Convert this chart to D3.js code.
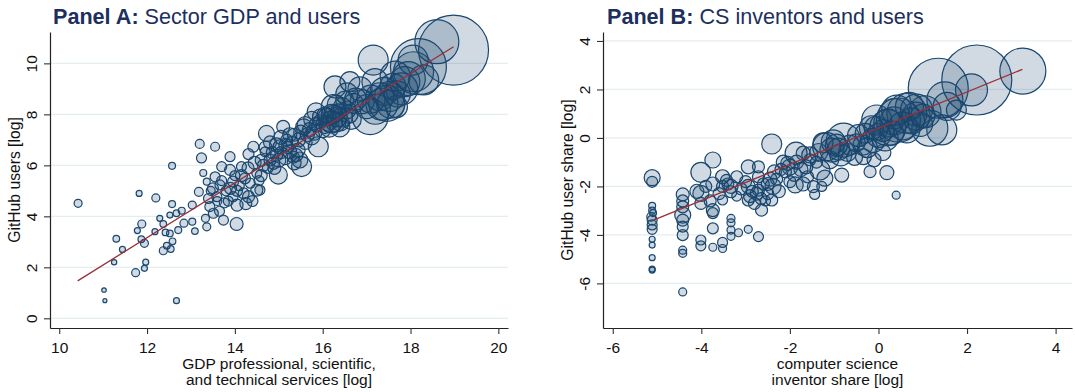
<!DOCTYPE html>
<html>
<head>
<meta charset="utf-8">
<script src="https://cdn.jsdelivr.net/npm/d3@7"></script>
<style>
  body { margin: 0; background: #fff; }
  svg { font-family: "Liberation Sans", Arial, sans-serif; }
</style>
</head>
<body>
<script>
// Panel A: sector GDP (log) vs GitHub users (log), bubble weight
const aGdp = [
  10.43,11.02,11.04,11.25,11.30,11.44,11.74,11.82,11.78,11.88,
  11.87,11.94,11.97,11.94,12.20,12.18,12.29,12.37,12.37,12.45,
  12.42,12.54,12.57,12.57,12.52,12.52,12.58,12.67,12.67,12.71,
  12.79,12.84,13.03,13.09,13.03,13.18,13.28,13.20,13.24,13.55,
  13.36,13.33,13.36,13.51,13.43,13.55,13.59,13.66,13.70,13.74,
  13.76,13.89,13.89,13.96,14.04,14.05,13.96,14.15,14.23,14.31,
  14.31,14.42,14.50,14.50,14.57,14.72,14.69,14.80,14.88,14.99,
  15.10,15.03,14.95,15.18,15.25,15.33,15.44,15.52,15.48,15.57,
  15.75,15.90,15.70,15.94,16.05,16.13,16.28,16.24,16.33,16.39,
  16.31,16.55,16.62,16.70,16.50,17.00,17.08,17.15,17.19,17.30,
  17.46,17.52,17.60,17.68,17.87,18.07,18.18,18.06,18.60,18.98,18.30,
  14.10,14.20,14.35,14.40,14.60,14.65,14.75,14.85,14.90,15.00,
  15.05,15.15,15.20,15.30,15.35,15.40,15.45,15.60,15.65,15.80,
  15.85,16.00,16.10,16.15,16.20,16.25,16.35,16.40,16.45,16.60,
  16.75,16.90,17.10,17.20,17.35,17.55,17.70,17.80,17.95,
  13.80,13.65,13.85,14.00,13.45,13.60,14.25,14.55,
  13.40,13.50,13.70,13.90,14.05,14.15,14.30,14.45,14.60,14.70,
  14.80,14.95,15.05,15.15,15.25,15.35,15.50,15.60,15.75,15.85,
  15.95,16.05,16.20,16.30,16.45,16.55,16.65,16.85,17.40,17.65
];
const aUsers = [
  4.51,1.11,0.69,2.20,3.12,2.70,1.79,4.90,3.44,3.70,
  3.10,2.94,2.20,1.96,4.72,3.40,3.92,3.70,2.65,2.85,
  3.37,2.72,5.98,4.48,4.05,3.33,3.02,0.69,4.12,3.46,
  4.22,3.73,3.79,3.42,4.44,4.96,5.70,6.84,6.29,6.73,
  5.36,3.92,3.59,4.12,4.38,5.55,4.77,5.23,5.95,3.85,
  4.53,6.34,5.82,5.36,3.70,4.44,4.77,5.95,5.49,4.77,
  6.44,6.73,5.69,5.03,5.03,7.25,6.53,6.21,6.08,5.62,
  7.51,6.73,6.40,6.99,6.53,6.32,6.60,5.95,6.21,7.51,
  7.12,6.73,7.40,7.71,7.97,7.65,9.08,8.30,7.90,7.51,
  8.40,8.17,9.28,8.43,8.56,8.30,7.91,10.13,9.28,8.69,
  8.43,8.70,9.10,8.30,9.28,9.67,9.87,10.13,10.85,10.52,9.35,
  5.20,4.90,5.30,4.60,5.60,6.00,5.90,6.50,5.90,6.20,
  6.50,6.30,6.70,6.90,6.10,6.40,7.00,6.90,7.20,7.30,
  7.60,7.40,7.90,7.50,7.70,8.00,8.10,7.70,8.30,8.00,
  8.60,8.50,8.60,8.20,8.40,8.40,8.80,9.00,9.40,
  5.00,4.20,4.60,5.60,5.00,4.60,4.50,5.40,
  4.70,5.10,5.40,5.10,5.00,5.60,5.90,6.10,6.20,6.70,
  6.90,6.80,7.10,6.80,7.20,7.20,7.30,7.60,7.80,8.10,
  7.90,7.60,8.00,7.70,7.90,8.80,7.80,9.00,8.90,9.50
];
const aWeight = [
  16,5,4,7,11,9,16,9,9,16,
  11,16,9,9,16,9,9,11,16,11,
  11,11,12,12,9,11,11,9,11,12,
  12,16,12,11,16,20,12,20,25,20,
  12,16,16,25,25,25,25,25,25,25,
  25,25,30,30,42,36,25,25,30,36,
  30,30,25,36,25,64,25,36,36,81,
  42,49,36,36,49,36,49,100,64,64,
  64,100,49,49,64,64,121,144,100,100,
  81,81,100,100,81,144,324,225,169,196,
  324,225,169,121,225,400,784,225,484,1225,225,
  25,30,25,30,36,36,30,36,42,49,
  36,49,36,36,49,42,49,49,49,64,
  49,64,81,100,121,81,64,81,81,81,
  121,144,196,225,256,196,169,256,289,
  25,25,25,25,20,20,36,25,
  25,30,25,36,30,36,36,42,36,42,
  42,49,49,42,49,42,49,64,64,81,
  64,81,100,100,100,121,100,144,196,225
];
const aFitX = [10.42, 18.98];
const aFitY = [1.47, 10.65];

// Panel B: CS inventor share (log) vs GitHub user share (log), bubble weight
const bInventor = [
  -5.11,-5.11,-5.11,-5.11,-5.13,-5.11,-5.11,-5.11,-5.11,-5.11,
  -5.11,-5.11,-5.11,-5.09,-4.42,-4.42,-4.42,-4.42,-4.42,-4.42,
  -4.42,-4.42,-4.42,-4.42,-4.01,-4.01,-4.01,-4.01,-4.01,-4.10,
  -3.74,-3.74,-3.74,-3.74,-3.74,-3.74,-3.52,-3.52,-3.52,-3.52,
  -3.52,-3.43,-3.33,-3.33,-3.33,-3.33,-3.33,-3.33,-3.16,-3.20,
  -2.94,-2.94,-3.00,-2.94,-2.94,-2.71,-2.71,-2.71,-2.71,-2.64,
  -2.80,-2.41,-2.45,-2.38,-2.41,-2.50,-2.30,-1.86,-2.05,-1.90,
  -1.88,-2.10,-1.70,-1.64,-1.55,-1.47,-1.44,-1.32,-1.21,-1.28,
  -1.17,-1.02,-0.79,-0.90,-0.83,-0.54,-0.34,-0.19,-0.30,-0.12,
  -0.16,0.19,0.40,-0.04,0.21,0.45,0.35,0.64,0.86,0.95,
  1.16,1.35,1.50,1.76,2.10,2.22,3.26,1.55,
  -3.90,-3.60,-3.20,-2.85,-2.60,-2.55,-2.20,-2.00,-1.75,-1.60,
  -1.40,-1.10,-0.95,-0.70,-0.50,-0.25,0.00,0.10,0.30,0.55,
  0.75,0.70,1.00,-0.10,0.10,0.41,0.21,0.64,1.43,1.05,
  -3.80,-3.40,-3.10,-2.90,-2.75,-2.65,-2.50,-2.35,-2.25,-2.15,
  -2.00,-1.85,-1.70,-1.55,-1.35,-1.25,-1.05,-0.85,-0.65,-0.45,
  -0.35,-0.05,0.15,0.35,0.85
];
const bUsers = [
  -1.64,-1.81,-2.80,-3.00,-3.25,-3.39,-3.59,-3.77,-4.18,-4.42,
  -4.94,-5.41,-5.45,-3.10,-2.33,-2.60,-2.84,-3.18,-3.39,-3.66,
  -4.01,-4.63,-4.76,-6.35,-1.42,-2.29,-2.70,-4.21,-4.45,-2.20,
  -0.91,-1.90,-2.98,-3.10,-3.73,-4.51,-1.60,-2.00,-2.56,-4.31,
  -4.56,-1.75,-2.00,-2.22,-3.32,-3.50,-3.80,-4.06,-3.91,-1.60,
  -1.19,-2.00,-1.80,-3.77,-2.56,-1.19,-1.60,-2.15,-4.07,-2.98,
  -2.70,-0.25,-1.70,-2.00,-2.56,-2.30,-1.70,-0.63,-1.05,-1.50,
  -1.94,-1.40,-0.63,-1.19,-0.90,-2.01,-2.33,-1.32,-1.66,-2.00,
  -0.36,-0.16,-0.09,-0.46,-1.53,-0.80,-0.77,-1.39,0.19,-0.10,
  0.42,-1.43,-2.36,0.74,0.42,0.74,1.00,1.02,1.15,0.56,
  0.40,2.05,1.57,1.15,1.98,2.39,2.76,1.30,
  -2.00,-2.30,-2.40,-2.20,-1.90,-2.60,-1.30,-1.80,-1.30,-1.60,
  -1.00,-0.90,-0.30,-0.60,-0.20,-0.40,0.10,0.30,0.20,0.50,
  0.70,1.30,0.90,-0.90,-0.60,1.15,0.62,0.33,0.33,1.08,
  -2.60,-1.90,-2.10,-2.40,-2.30,-2.50,-1.90,-1.40,-2.20,-1.00,
  -1.20,-1.00,-1.90,-0.70,-0.60,-0.20,-0.50,-0.70,-0.30,0.10,
  -0.30,0.40,0.00,0.70,0.90
];
const bWeight = [
  64,30,12,12,20,25,25,25,9,9,
  9,9,9,12,42,36,36,64,36,30,
  30,16,16,16,100,64,36,25,25,49,
  64,49,42,30,30,16,49,36,25,25,
  16,36,49,36,16,16,16,16,16,36,
  49,49,36,16,36,36,36,36,25,36,
  36,100,49,64,36,36,36,121,49,49,
  64,36,49,49,36,36,25,100,64,25,
  196,144,289,121,49,64,64,36,100,144,
  144,49,16,225,324,484,225,400,256,144,
  324,900,324,100,256,1225,529,196,
  36,36,25,36,36,25,36,36,49,36,
  36,81,121,81,81,100,144,121,144,196,
  169,196,144,49,64,225,196,169,225,256,
  36,36,36,42,42,36,42,49,42,49,
  64,49,49,64,81,100,144,121,100,121,
  100,144,169,196,196
];
const bFitX = [-5.08, 3.25];
const bFitY = [-3.39, 2.83];

const aTicksX = [10, 12, 14, 16, 18, 20];
const aTicksY = [0, 2, 4, 6, 8, 10];
const bTicksX = [-6, -4, -2, 0, 2, 4];
const bTicksY = [-6, -4, -2, 0, 2, 4];

const width = 1075, height = 392;
const navy = "#1a476f", maroon = "#9a2f37", titleColor = "#1c2f5e";

const svg = d3.select("body").append("svg")
  .attr("width", width).attr("height", height);

const rScale = d3.scaleSqrt().domain([0, 1225]).range([0, 35]);

function panel(cfg) {
  const x = d3.scaleLinear().domain(cfg.xDomain).range([cfg.left, cfg.right]);
  const y = d3.scaleLinear().domain(cfg.yDomain).range([cfg.bottom, cfg.top]);
  const g = svg.append("g");

  // title
  const t = g.append("text")
    .attr("x", cfg.titleX).attr("y", 24)
    .attr("font-size", 21.6).attr("fill", titleColor);
  t.append("tspan").attr("font-weight", "bold").text(cfg.titleBold);
  t.append("tspan").text(" " + cfg.titleRest);

  // gridlines
  g.append("g").selectAll("line").data(cfg.ticksY).enter().append("line")
    .attr("x1", cfg.left + 1).attr("x2", cfg.right)
    .attr("y1", d => y(d)).attr("y2", d => y(d))
    .attr("stroke", "#e4edf0").attr("stroke-width", 1.3);

  // bubbles
  const data = cfg.xs.map((v, i) => ({ x: v, y: cfg.ys[i], w: cfg.ws[i] }));
  g.append("g").selectAll("circle").data(data).enter().append("circle")
    .attr("cx", d => x(d.x)).attr("cy", d => y(d.y)).attr("r", d => rScale(d.w))
    .attr("fill", navy).attr("fill-opacity", 0.2)
    .attr("stroke", navy).attr("stroke-width", 1.2);

  // fitted line
  const fit = cfg.fitX.map((v, i) => [v, cfg.fitY[i]]);
  g.append("path").datum(fit)
    .attr("d", d3.line().x(d => x(d[0])).y(d => y(d[1])))
    .attr("stroke", maroon).attr("stroke-width", 1.3).attr("fill", "none");

  // axes
  const xAxis = g.append("g").attr("transform", `translate(0,${cfg.bottom})`)
    .call(d3.axisBottom(x).tickValues(cfg.ticksX).tickFormat(d => String(d))
      .tickSize(6).tickSizeOuter(0).tickPadding(8));
  const yAxis = g.append("g").attr("transform", `translate(${cfg.left},0)`)
    .call(d3.axisLeft(y).tickValues(cfg.ticksY).tickFormat(d => String(d))
      .tickSize(6).tickSizeOuter(0));
  [xAxis, yAxis].forEach(a => {
    a.select(".domain").attr("stroke", "#222").attr("stroke-width", 1.2);
    a.selectAll(".tick line").attr("stroke", "#333").attr("stroke-width", 1.1);
    a.selectAll("text").attr("font-size", 15.5).attr("fill", "#111")
      .attr("font-family", "'Liberation Sans', Arial, sans-serif");
  });
  yAxis.selectAll("text")
    .attr("x", null).attr("dy", "0.35em").attr("text-anchor", "middle")
    .attr("transform", "translate(-18,0) rotate(-90)");

  // axis titles
  const cx = (cfg.left + cfg.right) / 2;
  cfg.xTitle.forEach((line, i) => {
    g.append("text").attr("x", cx).attr("y", 369 + i * 15.5)
      .attr("text-anchor", "middle").attr("font-size", 15.5).attr("fill", "#111")
      .text(line);
  });
  g.append("text")
    .attr("transform", `translate(${cfg.left - 30},${(cfg.top + cfg.bottom) / 2}) rotate(-90)`)
    .attr("text-anchor", "middle").attr("font-size", 15.7).attr("fill", "#111")
    .text(cfg.yTitle);
}

panel({
  left: 50, right: 508, top: 32, bottom: 328,
  xDomain: [9.79, 20.22], yDomain: [-0.38, 11.23],
  xs: aGdp, ys: aUsers, ws: aWeight, fitX: aFitX, fitY: aFitY,
  ticksX: aTicksX, ticksY: aTicksY,
  titleX: 53, titleBold: "Panel A:", titleRest: "Sector GDP and users",
  xTitle: ["GDP professional, scientific,", "and technical services [log]"],
  yTitle: "GitHub users [log]"
});

panel({
  left: 603, right: 1072, top: 32, bottom: 328,
  xDomain: [-6.22, 4.37], yDomain: [-7.84, 4.37],
  xs: bInventor, ys: bUsers, ws: bWeight, fitX: bFitX, fitY: bFitY,
  ticksX: bTicksX, ticksY: bTicksY,
  titleX: 607, titleBold: "Panel B:", titleRest: "CS inventors and users",
  xTitle: ["computer science", "inventor share [log]"],
  yTitle: "GitHub user share [log]"
});
</script>
</body>
</html>
